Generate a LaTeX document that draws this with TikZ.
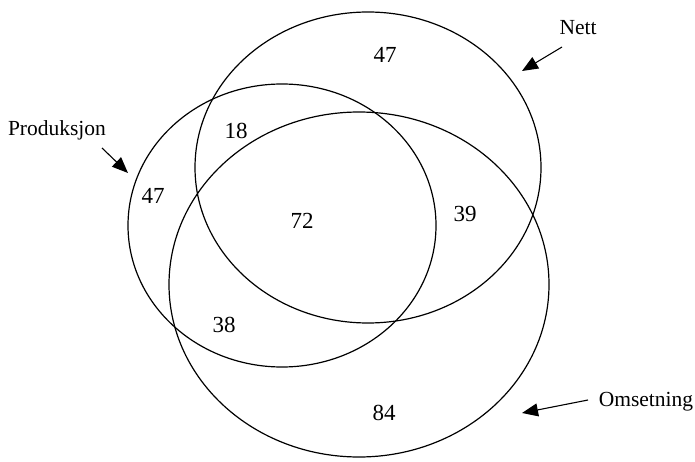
\documentclass[tikz,border=0pt]{standalone}
\usepackage{fontspec}
\setmainfont{Liberation Serif}
\usetikzlibrary{arrows.meta}
\begin{document}
\begin{tikzpicture}[x=1pt,y=-1pt,
  venn/.style={draw=black,line width=1.2pt},
  lbl/.style={font=\fontsize{21.5}{25}\selectfont,inner sep=0pt},
  num/.style={font=\fontsize{23}{27}\selectfont,inner sep=0pt},
  pointer/.style={line width=1.1pt,-{Triangle[length=16pt,width=13pt]}}]
\useasboundingbox (0,0) rectangle (695,462);
\draw[venn] (368,167.5) ellipse [x radius=173, y radius=155.5];
\draw[venn] (282,225.5) ellipse [x radius=154, y radius=141.5];
\draw[venn] (359,284.5) ellipse [x radius=190, y radius=172.5];
\node[lbl] (nett) at (578,28) {Nett};
\node[lbl] (prod) at (57,130) {Produksjon};
\node[lbl] (oms) at (646,402) {Omsetning};
\coordinate (nettS) at (562,47);
\coordinate (nettT) at (522,71);
\coordinate (prodS) at (102,148);
\coordinate (prodT) at (128,173);
\coordinate (omsS) at (588,400);
\coordinate (omsT) at (522,413);
\draw[pointer] (nettS) -- (nettT);
\draw[pointer] (prodS) -- (prodT);
\draw[pointer] (omsS) -- (omsT);
\node[num] (n1) at (385,55) {47};
\node[num] (n2) at (236,131) {18};
\node[num] (n3) at (153,195.5) {47};
\node[num] (n4) at (302,221) {72};
\node[num] (n5) at (465,214) {39};
\node[num] (n6) at (224,325) {38};
\node[num] (n7) at (384,413) {84};
\end{tikzpicture}
\end{document}
